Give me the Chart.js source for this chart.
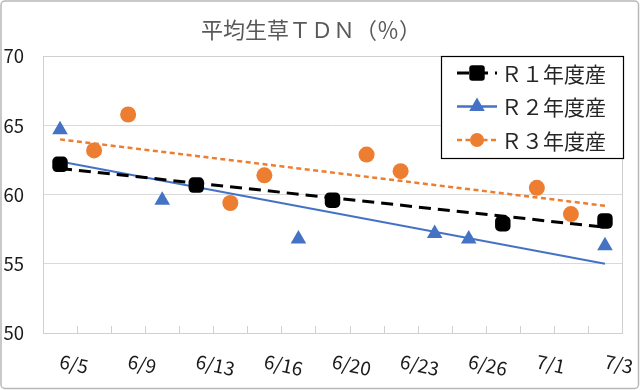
<!DOCTYPE html>
<html>
<head>
<meta charset="utf-8">
<script src="https://cdn.jsdelivr.net/npm/chart.js"></script>
<style>
  html, body { margin: 0; padding: 0; background: #fff; }
  #wrap { width: 640px; height: 390px; }
</style>
</head>
<body>
<div id="wrap"><canvas id="tdnChart" width="640" height="390"></canvas></div>
<script>
// category axis: 17 slots, only every other one is labelled in the original
const labels = ['6/5', '', '6/9', '', '6/13', '', '6/16', '', '6/20', '', '6/23', '', '6/26', '', '7/1', '', '7/3'];

const seriesNames = ['Ｒ１年度産', 'Ｒ２年度産', 'Ｒ３年度産'];

// values (null = no sample that day)
const r1Values = [62.2, null, null, null, 60.7, null, null, null, 59.6, null, null, null, null, 57.9, null, null, 58.1];
const r2Values = [64.7, null, null, 59.6, null, null, null, 56.8, null, null, null, 57.2, 56.8, null, null, null, 56.3];
const r3Values = [null, 63.2, 65.8, null, null, 59.4, 61.4, null, null, 62.9, 61.7, null, null, null, 60.5, 58.6, null];

// linear trend lines: value at first and last slot
const r1Trend = [61.9, 57.65];
const r2Trend = [62.4, 55.0];
const r3Trend = [64.0, 59.2];

const yTicks = [50, 55, 60, 65, 70];

const FONT = "'Noto Sans CJK JP', 'Noto Sans', sans-serif";
const BLACK = '#000000';
const BLUE = '#4472C4';
const ORANGE = '#ED7D31';

function trendData(ends) {
    const arr = labels.map(() => null);
    arr[0] = ends[0];
    arr[labels.length - 1] = ends[1];
    return arr;
}

const legendItems = [
    { color: BLACK, dash: [12, 7], width: 3, style: 'rect', radius: 9 },
    { color: BLUE, dash: [], width: 2.5, style: 'triangle', radius: 9 },
    { color: ORANGE, dash: [5, 3.5], width: 2.5, style: 'circle', radius: 7 }
];

function drawMarker(ctx, style, x, y, r, color) {
    ctx.save();
    ctx.fillStyle = color;
    ctx.setLineDash([]);
    ctx.beginPath();
    if (style === 'rect') {
        const s = r * 0.86;
        ctx.roundRect(x - s, y - s, s * 2, s * 2, 3);
    } else if (style === 'triangle') {
        ctx.moveTo(x, y - r);
        ctx.lineTo(x + r * 0.866, y + r * 0.5);
        ctx.lineTo(x - r * 0.866, y + r * 0.5);
        ctx.closePath();
    } else {
        ctx.arc(x, y, r, 0, Math.PI * 2);
    }
    ctx.fill();
    ctx.restore();
}

// frame, plot border, inner tick marks, rotated date labels and the boxed legend
const decorPlugin = {
    id: 'decor',
    beforeDraw(chart) {
        const ctx = chart.ctx;
        ctx.save();
        ctx.fillStyle = '#ffffff';
        ctx.fillRect(0, 0, chart.width, chart.height);
        ctx.strokeStyle = '#b8b8b8';
        ctx.lineWidth = 1.5;
        ctx.beginPath();
        ctx.roundRect(1, 1, chart.width - 2.5, chart.height - 2.5, 4);
        ctx.stroke();
        ctx.restore();
    },
    beforeDatasetsDraw(chart) {
        const ctx = chart.ctx;
        const a = chart.chartArea;
        const xs = chart.scales.x;
        const step = (a.right - a.left) / labels.length;
        ctx.save();
        ctx.strokeStyle = '#d0d0d0';
        ctx.lineWidth = 1;
        ctx.strokeRect(Math.round(a.left) + 0.5, Math.round(a.top) + 0.5,
            Math.round(a.right - a.left), Math.round(a.bottom - a.top));
        ctx.beginPath();
        for (let k = 1; k < labels.length; k++) {
            const x = Math.round(a.left + k * step) + 0.5;
            ctx.moveTo(x, a.bottom);
            ctx.lineTo(x, a.bottom - 7);
        }
        ctx.stroke();

        // date labels, slightly turned clockwise like the original
        ctx.fillStyle = '#1a1a1a';
        ctx.font = '19px ' + FONT;
        ctx.textAlign = 'left';
        ctx.textBaseline = 'middle';
        labels.forEach((lab, i) => {
            if (!lab) return;
            const x = xs.getPixelForValue(i);
            ctx.save();
            ctx.translate(x, a.bottom + 28);
            ctx.rotate(12 * Math.PI / 180);
            ctx.fillText(lab, 0, 0);
            ctx.restore();
        });
        ctx.restore();
    },
    afterDraw(chart) {
        const ctx = chart.ctx;
        const a = chart.chartArea;
        const box = { left: 441, top: Math.round(a.top), right: 623, bottom: 158 };
        ctx.save();
        ctx.fillStyle = '#ffffff';
        ctx.fillRect(box.left, box.top, box.right - box.left, box.bottom - box.top);
        ctx.strokeStyle = '#000000';
        ctx.lineWidth = 1.2;
        ctx.strokeRect(box.left + 0.5, box.top + 0.5, box.right - box.left, box.bottom - box.top);

        const rowY = [73, 106.5, 140];
        legendItems.forEach((item, i) => {
            const y = rowY[i];
            ctx.strokeStyle = item.color;
            ctx.lineWidth = item.width;
            ctx.setLineDash(item.dash);
            ctx.beginPath();
            ctx.moveTo(457, y);
            ctx.lineTo(497, y);
            ctx.stroke();
            ctx.setLineDash([]);
            drawMarker(ctx, item.style, 477, y, item.radius, item.color);

            ctx.fillStyle = '#262626';
            ctx.font = '21px ' + FONT;
            ctx.textAlign = 'left';
            ctx.textBaseline = 'middle';
            ctx.fillText(seriesNames[i], 501, y + 1);
        });
        ctx.restore();
    }
};

const ctx = document.getElementById('tdnChart');

new Chart(ctx, {
    type: 'line',
    data: {
        labels: labels,
        datasets: [
            {
                label: seriesNames[0], data: r1Values, showLine: false, order: 0,
                pointStyle: 'rectRounded', pointRadius: 9, pointHoverRadius: 9,
                backgroundColor: BLACK, borderColor: BLACK, pointBorderWidth: 0
            },
            {
                label: seriesNames[1], data: r2Values, showLine: false, order: 0,
                pointStyle: 'triangle', pointRadius: 9, pointHoverRadius: 9,
                backgroundColor: BLUE, borderColor: BLUE, pointBorderWidth: 0
            },
            {
                label: seriesNames[2], data: r3Values, showLine: false, order: 0,
                pointStyle: 'circle', pointRadius: 8, pointHoverRadius: 8,
                backgroundColor: ORANGE, borderColor: ORANGE, pointBorderWidth: 0
            },
            {
                label: 'trend1', data: trendData(r1Trend), spanGaps: true, order: 1,
                borderColor: BLACK, borderWidth: 3, borderDash: [12, 7], pointRadius: 0, fill: false
            },
            {
                label: 'trend2', data: trendData(r2Trend), spanGaps: true, order: 1,
                borderColor: BLUE, borderWidth: 2, pointRadius: 0, fill: false
            },
            {
                label: 'trend3', data: trendData(r3Trend), spanGaps: true, order: 1,
                borderColor: ORANGE, borderWidth: 2.5, borderDash: [5, 3.5], pointRadius: 0, fill: false
            }
        ]
    },
    options: {
        responsive: false,
        animation: false,
        layout: { padding: { left: 0, right: 18, top: 0, bottom: 0 } },
        plugins: {
            legend: { display: false },
            tooltip: { enabled: false },
            title: {
                display: true,
                text: '平均生草ＴＤＮ（％）',
                color: '#595959',
                font: { family: FONT, size: 22, weight: 'normal' },
                padding: { top: 16, bottom: 14 }
            }
        },
        scales: {
            x: {
                offset: true,
                grid: { display: false },
                border: { display: false },
                ticks: { display: false },
                afterFit(scale) { scale.height = 57; }
            },
            y: {
                min: yTicks[0],
                max: yTicks[yTicks.length - 1],
                afterBuildTicks(scale) { scale.ticks = yTicks.map(v => ({ value: v })); },
                grid: { color: '#d9d9d9', lineWidth: 1, drawTicks: false },
                border: { display: false },
                ticks: {
                    color: '#1a1a1a',
                    padding: 19,
                    font: { family: FONT, size: 18.5 }
                },
                afterFit(scale) { scale.width = 43; }
            }
        }
    },
    plugins: [decorPlugin]
});
</script>
</body>
</html>
